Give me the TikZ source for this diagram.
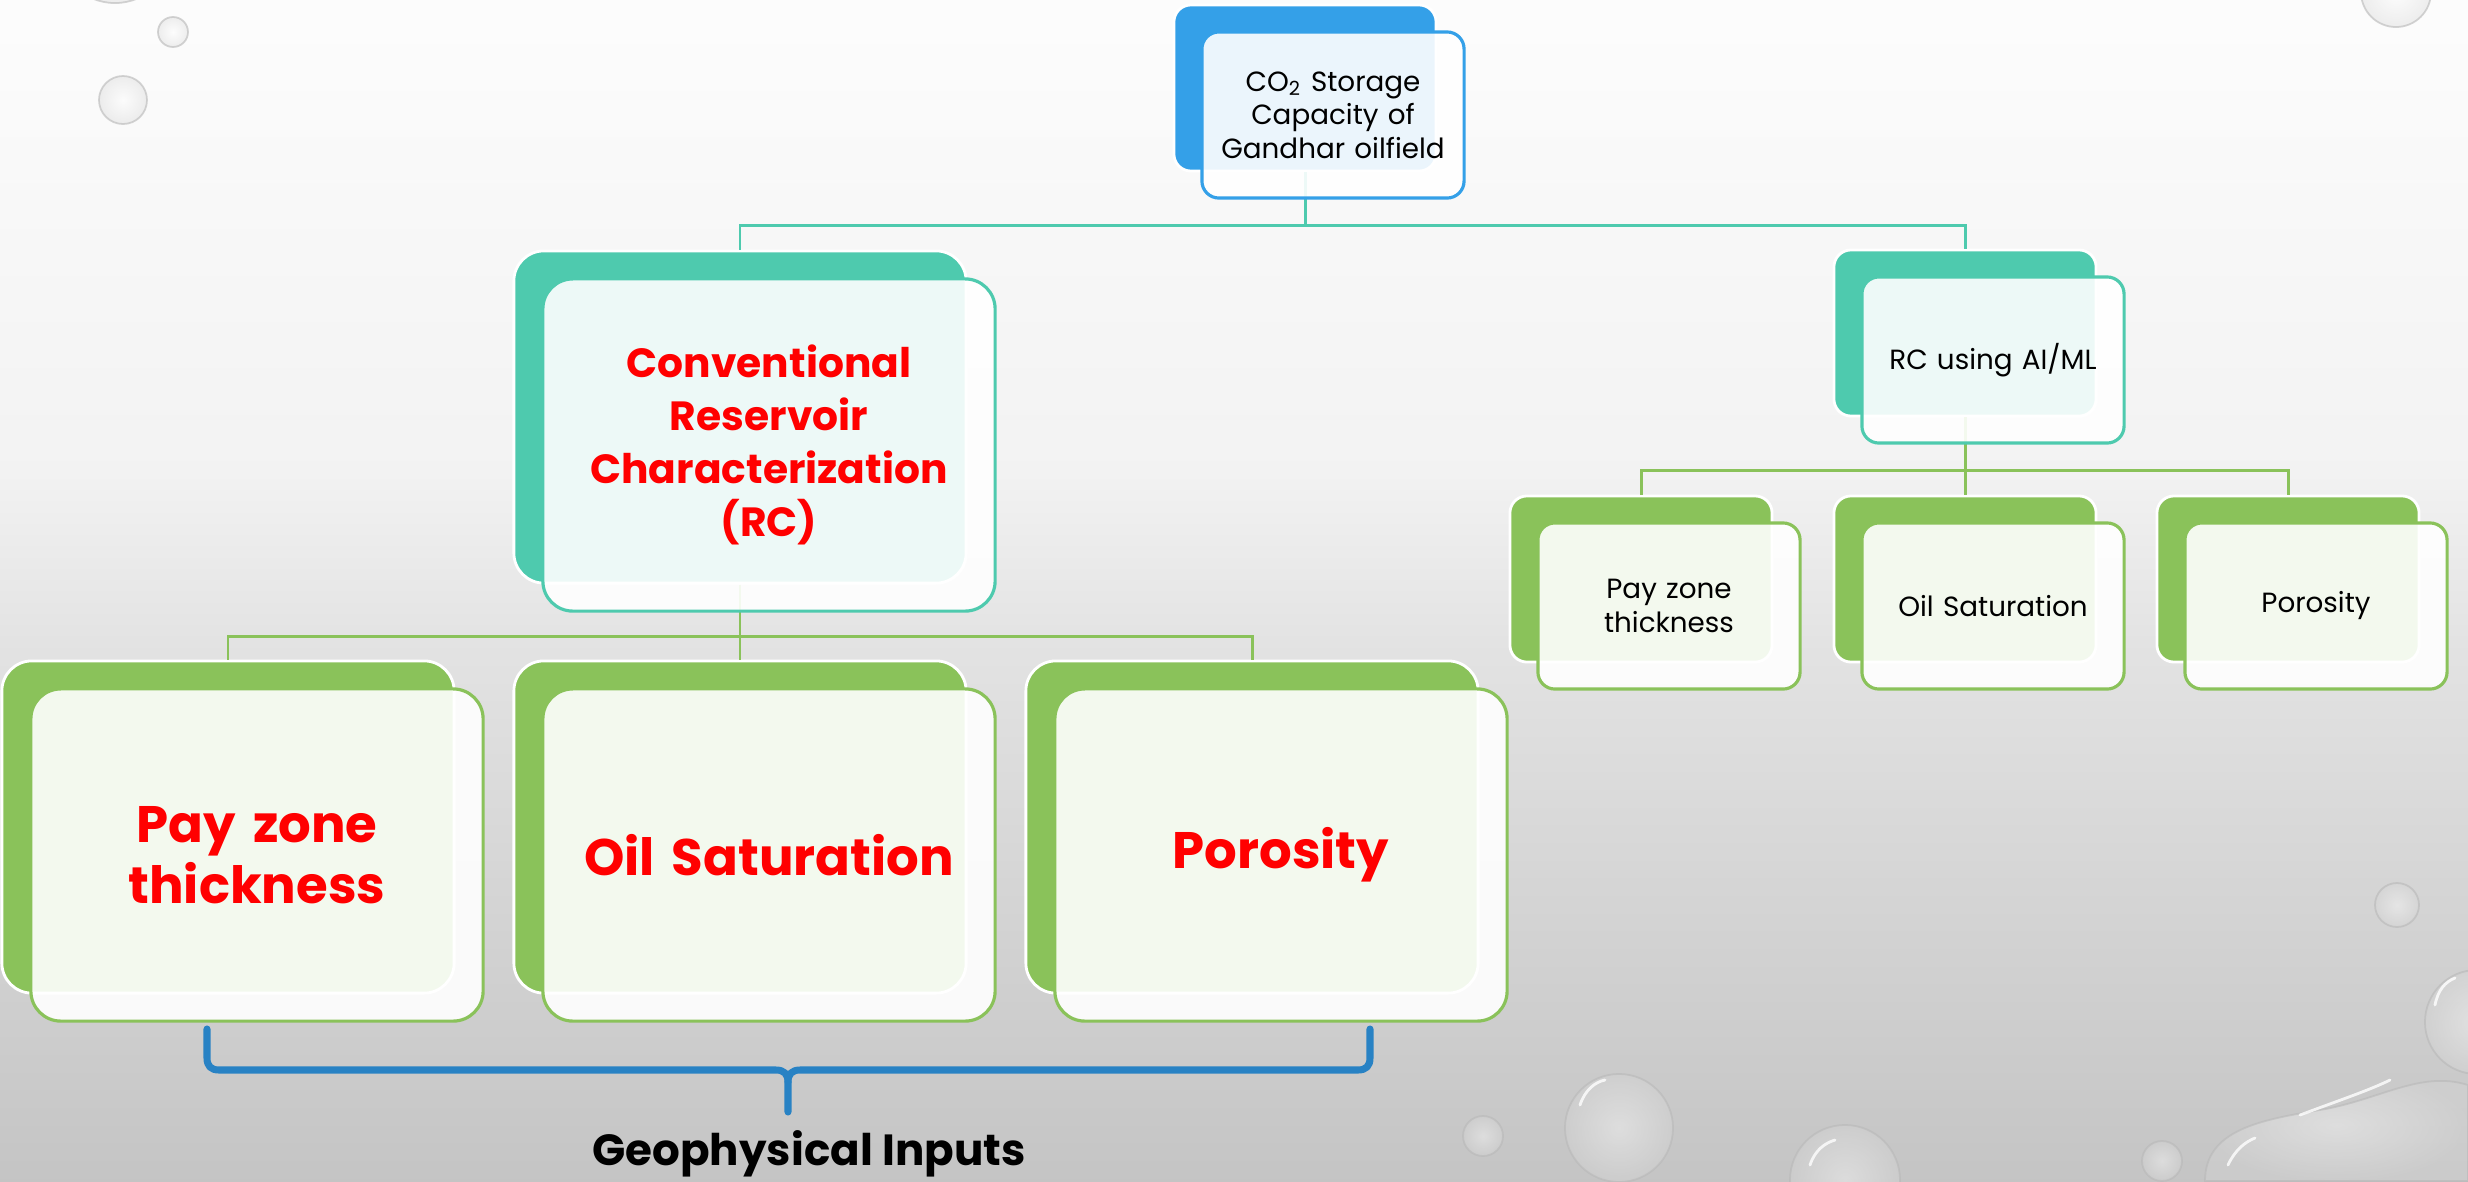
\documentclass[tikz,border=0pt]{standalone}
\usepackage{fontspec}
\setmainfont{Poppins}
\definecolor{bluebk}{RGB}{52,160,232}
\definecolor{tealbk}{RGB}{78,202,174}
\definecolor{greenbk}{RGB}{138,194,90}
\definecolor{bracec}{RGB}{40,130,196}
\definecolor{redtxt}{RGB}{255,0,0}
\begin{document}
\begin{tikzpicture}[x=0.01cm,y=-0.01cm,
  bigback/.style={rectangle, rounded corners=0.3cm, minimum width=4.52cm, minimum height=3.32cm, draw=white, line width=0.8pt, inner sep=0pt, fill=#1},
  smallback/.style={rectangle, rounded corners=0.17cm, minimum width=2.62cm, minimum height=1.66cm, draw=white, line width=0.8pt, inner sep=0pt, fill=#1},
  bigfront/.style={rectangle, rounded corners=0.3cm, minimum width=4.52cm, minimum height=3.32cm, fill=white, fill opacity=0.9, text opacity=1, draw=#1, draw opacity=1, line width=0.9pt, align=center, text width=4.2cm, inner sep=0pt},
  smallfront/.style={rectangle, rounded corners=0.17cm, minimum width=2.62cm, minimum height=1.66cm, fill=white, fill opacity=0.9, text opacity=1, draw=#1, draw opacity=1, line width=0.9pt, align=center, text width=2.4cm, inner sep=0pt},
  redbig/.style={font=\bfseries\fontsize{14.6}{17.4}\selectfont, text=redtxt},
  redmid/.style={font=\bfseries\fontsize{11.6}{15}\selectfont, text=redtxt},
  plain/.style={font=\fontsize{7.9}{9.5}\selectfont, text=black},
  conna/.style={draw=tealbk, line width=0.85pt},
  connb/.style={draw=greenbk, line width=0.85pt},
  brace/.style={draw=bracec, line width=2pt, line cap=round, line join=round},
  drop/.style={inner color=white, outer color=black!16, fill opacity=0.4, draw=black!28, draw opacity=0.6, line width=0.5pt},
  shine/.style={draw=white, line width=0.8pt, line cap=round, opacity=0.8}
]
\useasboundingbox (0,0) rectangle (2468,1181);
% background
\shade[top color=black!1, bottom color=black!5] (0,0) rectangle (2468,472);
\shade[top color=black!5, bottom color=black!11] (0,470) rectangle (2468,642);
\shade[top color=black!11, bottom color=black!23] (0,640) rectangle (2468,1181);
% droplets
\begin{scope}
\clip (0,0) rectangle (2468,1181);
\shade[drop] (115,-55) circle[radius=0.58cm];
\shade[drop] (173,32) circle[radius=0.15cm];
\shade[drop] (123,100) circle[radius=0.24cm];
\shade[drop] (2396,-8) circle[radius=0.35cm];
\shade[drop] (2397,905) circle[radius=0.22cm];
\shade[drop] (2477,1022) circle[radius=0.52cm];
\shade[drop] (1619,1128) circle[radius=0.54cm];
\shade[drop] (1845,1180) circle[radius=0.55cm];
\shade[drop] (2162,1161) circle[radius=0.2cm];
\shade[drop] (1483,1136) circle[radius=0.2cm];
\shade[drop] (2205,1181) .. controls (2205,1130) and (2260,1120) .. (2320,1110) .. controls (2380,1100) and (2420,1070) .. (2468,1085) -- (2468,1181) -- cycle;
\draw[shine] (1580,1105) .. controls (1585,1090) and (1595,1082) .. (1605,1080);
\draw[shine] (1810,1165) .. controls (1815,1150) and (1825,1143) .. (1835,1140);
\draw[shine] (2228,1165) .. controls (2235,1150) and (2245,1142) .. (2255,1138);
\draw[shine] (2300,1115) .. controls (2340,1100) and (2370,1090) .. (2390,1080);
\draw[shine] (2435,1005) .. controls (2438,990) and (2445,982) .. (2455,978);
\end{scope}
% back boxes
\node[smallback=bluebk] (top) at (1305,88) {};
\node[bigback=tealbk] (rc) at (740,417) {};
\node[smallback=tealbk] (ai) at (1965,333) {};
\node[bigback=greenbk] (b1) at (228,827) {};
\node[bigback=greenbk] (b2) at (740,827) {};
\node[bigback=greenbk] (b3) at (1252,827) {};
\node[smallback=greenbk] (s1) at (1641,579) {};
\node[smallback=greenbk] (s2) at (1965,579) {};
\node[smallback=greenbk] (s3) at (2288,579) {};
% connectors
\coordinate (j1) at (1305,225);
\coordinate (j2) at (740,636);
\coordinate (j3) at (1965,470);
\draw[conna] (top.south) -- (j1);
\draw[conna] (rc.north) |- (j1) -| (ai.north);
\draw[connb] (rc.south) -- (b2.north);
\draw[connb] (b1.north) |- (j2) -| (b3.north);
\draw[connb] (ai.south) -- (s2.north);
\draw[connb] (s1.north) |- (j3) -| (s3.north);
% front boxes
\node[smallfront=bluebk, plain] (topf) at (1333,115) {CO\textsubscript{2} Storage\\Capacity of\\Gandhar oilfield};
\node[bigfront=tealbk, redmid] (rcf) at (769,445) {Conventional\\Reservoir\\Characterization\\(RC)};
\node[smallfront=tealbk, plain] (aif) at (1993,360) {RC using AI/ML};
\node[bigfront=greenbk, redbig] (b1f) at (257,855) {Pay zone\\thickness};
\node[bigfront=greenbk, redbig] (b2f) at (769,855) {Oil Saturation};
\node[bigfront=greenbk, redbig] (b3f) at (1281,855) {Porosity};
\node[smallfront=greenbk, plain] (s1f) at (1669,606) {Pay zone\\thickness};
\node[smallfront=greenbk, plain] (s2f) at (1993,606) {Oil Saturation};
\node[smallfront=greenbk, plain] (s3f) at (2316,606) {Porosity};
% brace
\coordinate (bl) at (207,1029);
\coordinate (br) at (1370,1029);
\coordinate (bm) at (788,1112);
\draw[brace] (bl) -- (207,1058) .. controls (207,1066) and (211,1070) .. (219,1070) -- (776,1070) .. controls (784,1070) and (788,1074) .. (788,1082) -- (bm);
\draw[brace] (br) -- (1370,1058) .. controls (1370,1066) and (1366,1070) .. (1358,1070) -- (800,1070) .. controls (792,1070) and (788,1074) .. (788,1082);
\node[font=\bfseries\fontsize{12.4}{15}\selectfont, text=black] (geo) at (809,1154) {Geophysical Inputs};
\end{tikzpicture}
\end{document}
